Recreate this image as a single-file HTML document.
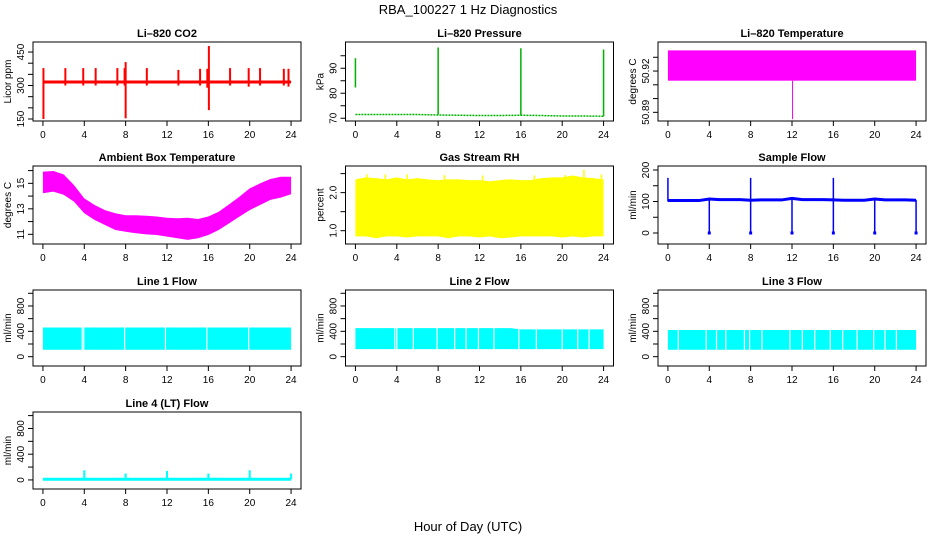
<!DOCTYPE html>
<html><head><meta charset="utf-8">
<style>
html,body{margin:0;padding:0;background:#fff;}
svg{display:block;font-family:"Liberation Sans",sans-serif;}
</style></head>
<body>
<svg id="chart" width="936" height="540" viewBox="0 0 936 540" xmlns="http://www.w3.org/2000/svg">
<rect width="936" height="540" fill="#fff"/>
<text x="468" y="14" text-anchor="middle" font-size="13">RBA_100227  1 Hz Diagnostics</text>
<text x="468" y="531" text-anchor="middle" font-size="13">Hour of Day (UTC)</text>
</svg>
<script>
// ---- data ----
const xTickLabels = [0,4,8,12,16,20,24];
const hours = [0,1,2,3,4,5,6,7,8,9,10,11,12,13,14,15,16,17,18,19,20,21,22,23,24];
// CO2
const co2Base = 316;
const co2SpikeTimes = [0.05,2.17,3.9,5.1,7.2,7.9,8.0,10.05,13.1,15.2,15.9,16.05,18.1,19.9,21.0,23.3,23.75];
const co2SpikeHigh  = [378,378,378,378,378,378,405,378,370,375,375,477,378,378,378,375,375];
const co2SpikeLow   = [150,300,300,300,300,300,153,300,300,300,290,190,300,295,300,300,295];
// Pressure
const presTimes = [0,2,4,6,8,10,12,14,16,18,20,22,24];
const presVals  = [71.5,71.5,71.5,71.5,71.3,71.2,71.1,71.1,71.2,71.1,70.9,70.9,70.8];
const presSpikeTimes = [0,8,16,24];
const presSpikeLow  = [82.3,71.5,71.2,70.8];
const presSpikeHigh = [94,98.3,98,97.5];
// Li-820 temperature
const tempBandTop = 50.935, tempBandBottom = 50.913;
const tempDipTime = 12.05, tempDipVal = 50.885;
// Ambient
const ambMax = [15.92,15.97,15.7,14.87,13.82,13.3,12.9,12.65,12.5,12.5,12.46,12.4,12.3,12.26,12.3,12.2,12.4,12.77,13.35,13.95,14.6,15.0,15.34,15.52,15.52];
const ambMin = [14.22,14.35,14.1,13.56,12.65,12.12,11.73,11.34,11.2,11.08,11.0,10.95,10.82,10.69,10.56,10.69,10.95,11.34,11.86,12.39,12.9,13.3,13.7,13.88,14.14];
// RH
const rhMax = [2.35,2.4,2.38,2.35,2.4,2.35,2.38,2.35,2.33,2.35,2.35,2.33,2.33,2.3,2.33,2.35,2.33,2.33,2.38,2.4,2.4,2.45,2.4,2.38,2.35];
const rhMin = [0.85,0.85,0.8,0.85,0.85,0.82,0.85,0.85,0.85,0.8,0.85,0.85,0.82,0.85,0.8,0.82,0.85,0.85,0.85,0.85,0.82,0.85,0.82,0.85,0.85];
const rhSpikeTimes = [1.1,2.9,5.0,8.6,12.3,17.3,20.3,22.1,23.8];
const rhSpikeVals  = [2.48,2.48,2.48,2.46,2.45,2.45,2.46,2.6,2.48];
// Sample flow
const sfTimes = [0,1,2,3,4,5,6,7,8,9,10,11,12,13,14,15,16,17,18,19,20,21,22,23,24];
const sfVals  = [103,103,103,103,108,106,106,106,104,105,105,105,110,106,106,106,105,104,104,104,108,105,105,105,104];
const sfDropTimes = [4,8,12,16,20,24];
const sfSpikeTimes = [0,8,16];
const sfSpikeVals = [175,175,175];
// Line flows
const l1Top = 460, l1Bottom = 110;
const l1Gaps = [3.8,3.95,7.9,11.85,15.85,19.9];
const l2Top = [450,450,450,450,450,450,450,450,450,450,450,450,450,450,450,450,430,430,430,430,430,430,430,430,430];
const l2Bottom = 120;
const l2Gaps = [3.8,4.0,5.6,7.9,9.6,10.7,11.9,13.4,15.8,17.5,20.0,21.5,22.6];
const l3Top = 420, l3Bottom = 110;
const l3Gaps = [1.0,3.7,4.7,5.6,7.4,7.9,9.1,11.8,13.0,14.2,15.7,16.9,18.3,19.9,21.0,22.1];
// Line 4
const l4Base = 10;
const l4SpikeTimes = [4,8,12,16,20,24];
const l4SpikeVals = [150,100,140,100,150,100];

// ---- layout ----
const NS = "http://www.w3.org/2000/svg";
const svg = document.getElementById('chart');
const colLeft = [33,345.5,658];
const boxW = 268;
const rowsY = [[42,121],[166,244],[290,366],[412,489]];
function mk(tag, attrs, parent){
  const e = document.createElementNS(NS, tag);
  for (const k in attrs) e.setAttribute(k, attrs[k]);
  (parent||svg).appendChild(e);
  return e;
}
function panel(col,row,name,title,ylab,ylim,ticks,labels){
  const g = mk('g',{});
  
  
  const L = colLeft[col], R = L+boxW, T = rowsY[row][0], B = rowsY[row][1];
  const xs = v => L + (v+0.96)/25.92*boxW;
  const ys = v => B - (v-ylim[0])/(ylim[1]-ylim[0])*(B-T);
  const t = mk('text',{x:(L+R)/2,y:T-5,'text-anchor':'middle','font-size':11,'font-weight':'bold'},g);
  t.textContent = title;
  
  
  const yl = mk('text',{x:0,y:0,'text-anchor':'middle','font-size':10,transform:`translate(${L-22},${(T+B)/2}) rotate(-90)`},g);
  yl.textContent = ylab;
  
  
  const plot = mk('g',{},g);
  // y axis
  mk('line',{x1:L,x2:L,y1:ys(ticks[0]),y2:ys(ticks[ticks.length-1]),stroke:'#000'},g);
  ticks.forEach(v=>{
    mk('line',{x1:L-5,x2:L,y1:ys(v),y2:ys(v),stroke:'#000'},g);
  });
  labels.forEach(v=>{
    const tl = mk('text',{x:0,y:0,'text-anchor':'middle','font-size':10,transform:`translate(${L-9},${ys(v)}) rotate(-90)`},g);
    tl.textContent = (typeof v==='number' && ylim[1]-ylim[0]<5 && ylim[1]-ylim[0]>0.5) ? v.toFixed(1) : (ylim[1]-ylim[0]<0.5? v.toFixed(2): String(v));
    
    
  });
  // x axis
  mk('line',{x1:xs(0),x2:xs(24),y1:B,y2:B,stroke:'#000'},g);
  xTickLabels.forEach(v=>{
    mk('line',{x1:xs(v),x2:xs(v),y1:B,y2:B+5,stroke:'#000'},g);
    const tl = mk('text',{x:xs(v),y:B+17,'text-anchor':'middle','font-size':10},g);
    tl.textContent = v;
    
    
  });
  mk('rect',{x:L,y:T,width:boxW,height:B-T,fill:'none',stroke:'#000'},g);
  return {plot,xs,ys,L,R,T,B};
}
function band(p, tArr, hi, lo, color){
  let pts = tArr.map((t,i)=>`${p.xs(t)},${p.ys(hi[i])}`);
  for (let i=tArr.length-1;i>=0;i--) pts.push(`${p.xs(tArr[i])},${p.ys(lo[i])}`);
  return mk('polygon',{points:pts.join(' '),fill:color},p.plot);
}
function vline(p,t,a,b,color,w){
  return mk('line',{x1:p.xs(t),x2:p.xs(t),y1:p.ys(a),y2:p.ys(b),stroke:color,'stroke-width':w||1},p.plot);
}

// CO2
let p = panel(0,0,'panel-co2','Li\u2013820 CO2','Licor ppm',[141,495],[150,200,250,300,350,400,450],[150,300,450]);
let s = mk('line',{x1:p.xs(0),x2:p.xs(24),y1:p.ys(co2Base),y2:p.ys(co2Base),stroke:'red','stroke-width':3},p.plot);
 
co2SpikeTimes.forEach((t,i)=>{
  const sp = vline(p,t,co2SpikeLow[i],co2SpikeHigh[i],'red',2);
   
});

// Pressure
p = panel(1,0,'panel-pressure','Li\u2013820 Pressure','kPa',[68.9,100.5],[70,75,80,85,90,95],[70,80,90]);
s = mk('polyline',{points:presTimes.map((t,i)=>`${p.xs(t)},${p.ys(presVals[i])}`).join(' '),fill:'none',stroke:'#00b000','stroke-width':1.5,'stroke-dasharray':'2 1'},p.plot);
 
presSpikeTimes.forEach((t,i)=>{
  const sp = vline(p,t,presSpikeLow[i],presSpikeHigh[i],'#00b000',1.5);
   
});

// Temperature
p = panel(2,0,'panel-li820-temp','Li\u2013820 Temperature','degrees C',[50.8837,50.9411],[50.89,50.90,50.91,50.92,50.93],[50.89,50.92]);
s = mk('rect',{x:p.xs(0),y:p.ys(tempBandTop),width:p.xs(24)-p.xs(0),height:p.ys(tempBandBottom)-p.ys(tempBandTop),fill:'#ff00ff'},p.plot);
 
s = vline(p,tempDipTime,tempDipVal,tempBandBottom,'#ff00ff',1);
 

// Ambient
p = panel(0,1,'panel-ambient-temp','Ambient Box Temperature','degrees C',[10.24,16.36],[11,12,13,14,15,16],[11,13,15]);
s = band(p,hours,ambMax,ambMin,'#ff00ff');
 

// RH
p = panel(1,1,'panel-rh','Gas Stream RH','percent',[0.65,2.70],[1.0,1.5,2.0,2.5],[1.0,2.0]);
s = band(p,hours,rhMax,rhMin,'#ffff00');
 
rhSpikeTimes.forEach((t,i)=>{
  const sp = vline(p,t,1.5,rhSpikeVals[i],'#ffff00',1.5);
   
});

// Sample flow
p = panel(2,1,'panel-sample-flow','Sample Flow','ml/min',[-34.9,212.7],[0,50,100,150,200],[0,100,200]);
s = mk('polyline',{points:sfTimes.map((t,i)=>`${p.xs(t)},${p.ys(sfVals[i])}`).join(' '),fill:'none',stroke:'#0000ff','stroke-width':3},p.plot);
 
sfDropTimes.forEach(t=>{
  const sp = vline(p,t,0,105,'#0000ff',1.5);
   
  const d = mk('rect',{x:p.xs(t)-1.5,y:p.ys(0)-1.5,width:3,height:3,fill:'#0000ff'},p.plot);
   
});
sfSpikeTimes.forEach((t,i)=>{
  const sp = vline(p,t,100,sfSpikeVals[i],'#0000ff',1.5);
   
});

// Line flows
function lineFlow(col,name,title,topArr,bottom,gaps){
  const pp = panel(col,2,name,title,'ml/min',[-147,1052],[0,200,400,600,800,1000],[0,400,800]);
  const tops = Array.isArray(topArr)? topArr : hours.map(()=>topArr);
  let pts = hours.map((t,i)=>`${pp.xs(t)},${pp.ys(tops[i])}`);
  pts.push(`${pp.xs(24)},${pp.ys(bottom)}`,`${pp.xs(0)},${pp.ys(bottom)}`);
  const b = mk('polygon',{points:pts.join(' '),fill:'#00ffff'},pp.plot);
   
  gaps.forEach(t=>{
    const gl = vline(pp,t,bottom-10,tops[Math.round(t)]+10,'#fff',1.2);
     
  });
  return pp;
}
lineFlow(0,'panel-line1-flow','Line 1 Flow',l1Top,l1Bottom,l1Gaps);
lineFlow(1,'panel-line2-flow','Line 2 Flow',l2Top,l2Bottom,l2Gaps);
lineFlow(2,'panel-line3-flow','Line 3 Flow',l3Top,l3Bottom,l3Gaps);

// Line 4
p = panel(0,3,'panel-line4-flow','Line 4 (LT) Flow','ml/min',[-141,1056],[0,200,400,600,800,1000],[0,400,800]);
s = mk('line',{x1:p.xs(0),x2:p.xs(24),y1:p.ys(l4Base),y2:p.ys(l4Base),stroke:'#00ffff','stroke-width':3},p.plot);
 
l4SpikeTimes.forEach((t,i)=>{
  const sp = vline(p,t,l4Base,l4SpikeVals[i],'#00ffff',2);
   
});
</script>
</body></html>
